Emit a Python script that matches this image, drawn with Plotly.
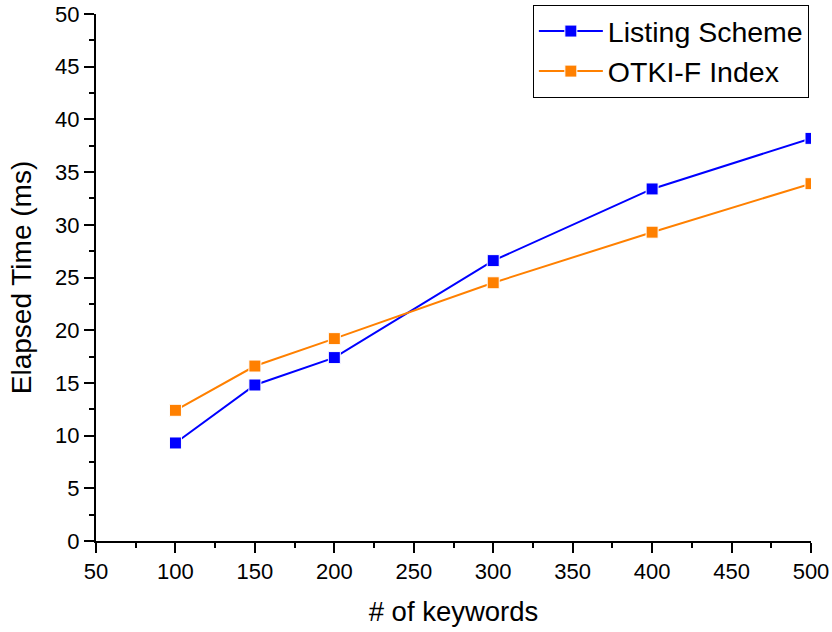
import plotly.graph_objects as go

keywords = [100, 150, 200, 300, 400, 500]
listing_scheme = [9.3, 14.8, 17.4, 26.6, 33.4, 38.2]
otki_f_index = [12.4, 16.6, 19.2, 24.5, 29.3, 33.9]

font_family = "Liberation Sans, Arial, sans-serif"

fig = go.Figure()
fig.add_trace(go.Scatter(
    x=keywords, y=listing_scheme, name="Listing Scheme", mode="lines+markers",
    line=dict(color="#0000ff", width=2),
    marker=dict(symbol="square", size=12, color="#0000ff", line=dict(color="white", width=1)),
))
fig.add_trace(go.Scatter(
    x=keywords, y=otki_f_index, name="OTKI-F Index", mode="lines+markers",
    line=dict(color="#ff8000", width=2),
    marker=dict(symbol="square", size=12, color="#ff8000", line=dict(color="white", width=1)),
))

axis_common = dict(
    showgrid=False, zeroline=False, showline=True, linecolor="black", linewidth=2,
    ticks="outside", ticklen=10, tickwidth=2, tickcolor="black",
    tickfont=dict(family=font_family, size=22, color="black"),
    mirror=False,
)

fig.update_layout(
    width=832, height=632,
    margin=dict(l=96, r=21, t=14, b=91, autoexpand=False),
    paper_bgcolor="white", plot_bgcolor="white",
    font=dict(family=font_family, color="black"),
    xaxis=dict(
        range=[50, 500], tick0=50, dtick=50,
        title=dict(text="# of keywords", font=dict(family=font_family, size=27.5), standoff=18),
        minor=dict(ticks="outside", ticklen=5, tickwidth=2, tickcolor="black", dtick=25, tick0=50),
        **axis_common,
    ),
    yaxis=dict(
        range=[0, 50], tick0=0, dtick=5,
        title=dict(text="Elapsed Time (ms)", font=dict(family=font_family, size=28), standoff=15),
        minor=dict(ticks="outside", ticklen=5, tickwidth=2, tickcolor="black", dtick=2.5, tick0=0),
        **axis_common,
    ),
    legend=dict(
        x=0.997, y=1.017, xanchor="right", yanchor="top",
        bgcolor="white", bordercolor="black", borderwidth=1,
        font=dict(family=font_family, size=28.5, color="black"),
        itemwidth=64, tracegroupgap=0,
    ),
    showlegend=True,
)

fig.write_html("out.html")
